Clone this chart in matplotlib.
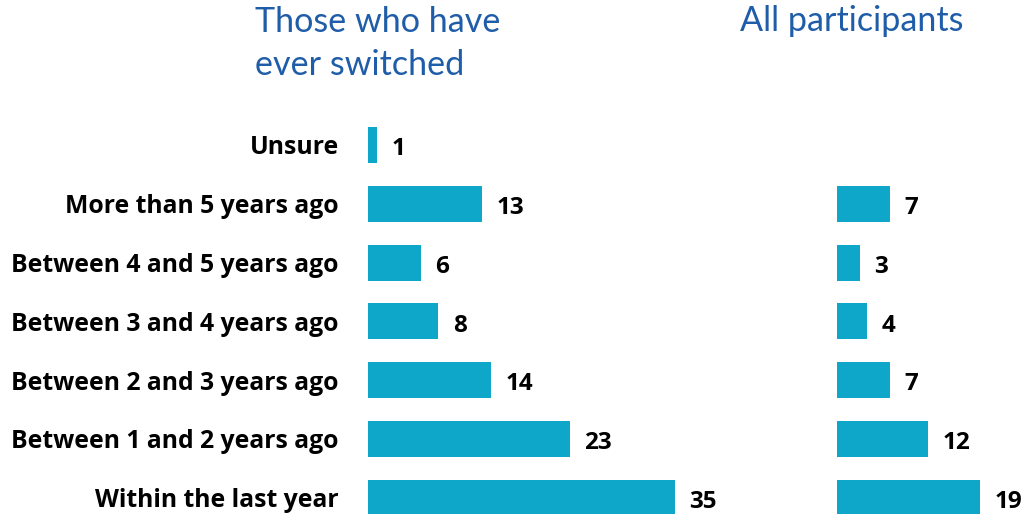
import matplotlib.pyplot as plt

plt.rcParams['font.family'] = ['Open Sans', 'DejaVu Sans']

# switching timing, % of respondents
categories = ['Within the last year', 'Between 1 and 2 years ago', 'Between 2 and 3 years ago',
              'Between 3 and 4 years ago', 'Between 4 and 5 years ago', 'More than 5 years ago',
              'Unsure']
switched = [35, 23, 14, 8, 6, 13, 1]
all_participants = [19, 12, 7, 4, 3, 7, None]

BAR = '#0EA6C9'
TITLE = '#1F5DA8'

W, H = 1032, 514
fig = plt.figure(figsize=(W / 100, H / 100), dpi=100)

row_px = 58.8
top_px = 145 - row_px / 2
ax_h = 7 * row_px
bottom = 1 - (top_px + ax_h) / H


def panel(x0_px, px_per_unit, xmax, values, show_labels):
    width_px = xmax * px_per_unit
    ax = fig.add_axes([x0_px / W, bottom, width_px / W, ax_h / H])
    ypos = list(range(len(categories)))
    for y, v in zip(ypos, values):
        if v is None:
            continue
        ax.barh(y, v, height=0.61, color=BAR)
        ax.annotate(str(v), (v, y), xytext=(10.5, -3), textcoords='offset points',
                    ha='left', va='center', fontsize=17.5, fontweight='bold', color='black')
    ax.set_xlim(0, xmax)
    ax.set_ylim(-0.5, len(categories) - 0.5)
    ax.set_xticks([])
    ax.set_yticks(ypos)
    if show_labels:
        ax.set_yticklabels(categories, fontsize=17.8, fontweight='bold')
    else:
        ax.set_yticklabels([])
    ax.tick_params(axis='y', length=0, pad=21)
    for s in ax.spines.values():
        s.set_visible(False)
    return ax


panel(368, 8.77, 40, switched, True)
panel(837, 7.55, 25, all_participants, False)

title_font = dict(family=['Lato', 'DejaVu Sans'], fontsize=24.6, color=TITLE,
                  ha='left', va='baseline')
fig.text(255 / W, 1 - 32 / H, 'Those who have', **title_font)
fig.text(255 / W, 1 - 75 / H, 'ever switched', **title_font)
fig.text(740 / W, 1 - 31 / H, 'All participants', **title_font)

fig.savefig('out.png', dpi=100)
